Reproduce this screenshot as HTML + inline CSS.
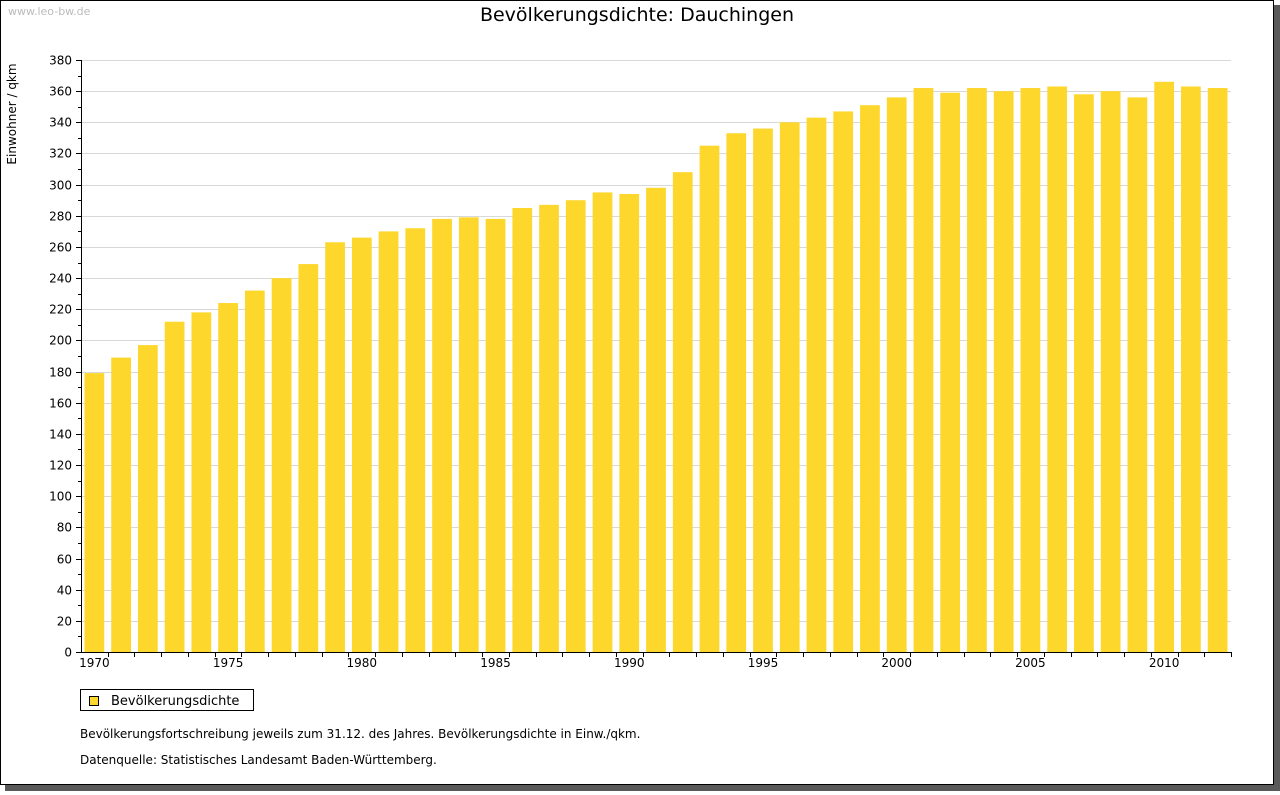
<!DOCTYPE html>
<html><head><meta charset="utf-8"><style>
body{margin:0;background:#fff;width:1280px;height:791px;overflow:hidden;font-family:"DejaVu Sans","Liberation Sans",sans-serif}
</style></head><body>
<svg width="1280" height="791" xmlns="http://www.w3.org/2000/svg" style="font-family:'DejaVu Sans','Liberation Sans',sans-serif">
<rect x="5" y="5" width="1275" height="786" fill="#5a5a5a"/>
<rect x="0.5" y="0.5" width="1273" height="784" fill="#fff" stroke="#000"/>
<text x="8" y="15" font-size="11" fill="#bbb">www.leo-bw.de</text>
<text x="637" y="21" font-size="19" text-anchor="middle" fill="#000">Bevölkerungsdichte: Dauchingen</text>
<text transform="translate(16,114) rotate(-90)" font-size="12" text-anchor="middle">Einwohner / qkm</text>
<g id="grid"></g><g id="bars"></g><g id="axes"></g>
<rect x="80.5" y="689.5" width="173" height="21" fill="#fff" stroke="#000"/>
<rect x="89.5" y="696.5" width="9" height="9" fill="#fdd72c" stroke="#000"/>
<text x="111" y="705" font-size="13">Bevölkerungsdichte</text>
<text x="80" y="738" font-size="12">Bevölkerungsfortschreibung jeweils zum 31.12. des Jahres. Bevölkerungsdichte in Einw./qkm.</text>
<text x="80" y="764" font-size="12">Datenquelle: Statistisches Landesamt Baden-Württemberg.</text>
</svg>
<script>
const years=[1970,1971,1972,1973,1974,1975,1976,1977,1978,1979,1980,1981,1982,1983,1984,1985,1986,1987,1988,1989,1990,1991,1992,1993,1994,1995,1996,1997,1998,1999,2000,2001,2002,2003,2004,2005,2006,2007,2008,2009,2010,2011,2012];
const values=[179,189,197,212,218,224,232,240,249,263,266,270,272,278,279,278,285,287,290,295,294,298,308,325,333,336,340,343,347,351,356,362,359,362,360,362,363,358,360,356,366,363,362];
const yTicks=[0,20,40,60,80,100,120,140,160,180,200,220,240,260,280,300,320,340,360,380];
const xLabelYears=[1970,1975,1980,1985,1990,1995,2000,2005,2010];
const NS="http://www.w3.org/2000/svg";
const x0=81,x1=1231,y0=652,y1=60,ymax=380;
const cw=(x1-x0)/years.length;
const ys=v=>y0-(v/ymax)*(y0-y1);
const xs=i=>x0+cw*i;
function mk(t,a,p){const e=document.createElementNS(NS,t);for(const k in a)e.setAttribute(k,a[k]);p.appendChild(e);return e;}
const g=document.getElementById('grid'),b=document.getElementById('bars'),ax=document.getElementById('axes');
yTicks.forEach(v=>{const y=Math.round(ys(v))+0.5;
 if(v>0){const l=mk('line',{x1:x0,x2:x1,y1:y,y2:y,stroke:'#d8d8d8'},g);
 
 }
 mk('line',{x1:x0-5,x2:x0,y1:y,y2:y,stroke:'#000'},ax);
 const my=Math.round(ys(v+10))+0.5; if(v<ymax) mk('line',{x1:x0-3,x2:x0,y1:my,y2:my,stroke:'#000'},ax);
 const t=mk('text',{x:x0-9,y:y+4,'font-size':12,'text-anchor':'end'},ax);t.textContent=v;
 
 });
years.forEach((yr,i)=>{const r=mk('rect',{x:xs(i)+3.5,y:ys(values[i]),width:cw-7,height:y0-ys(values[i]),fill:'#fdd72c'},b);
 
 
 const tx=Math.round(xs(i+1))+0.5; mk('line',{x1:tx,x2:tx,y1:y0,y2:y0+5,stroke:'#000'},ax);
 if(xLabelYears.includes(yr)){const t=mk('text',{x:xs(i)+cw/2,y:y0+15,'font-size':12,'text-anchor':'middle'},ax);t.textContent=yr;
 
 }});
mk('line',{x1:x0+0.5,x2:x0+0.5,y1:y1,y2:y0,stroke:'#000'},ax);
mk('line',{x1:x0,x2:x1,y1:y0+0.5,y2:y0+0.5,stroke:'#000'},ax);
</script>
</body></html>
